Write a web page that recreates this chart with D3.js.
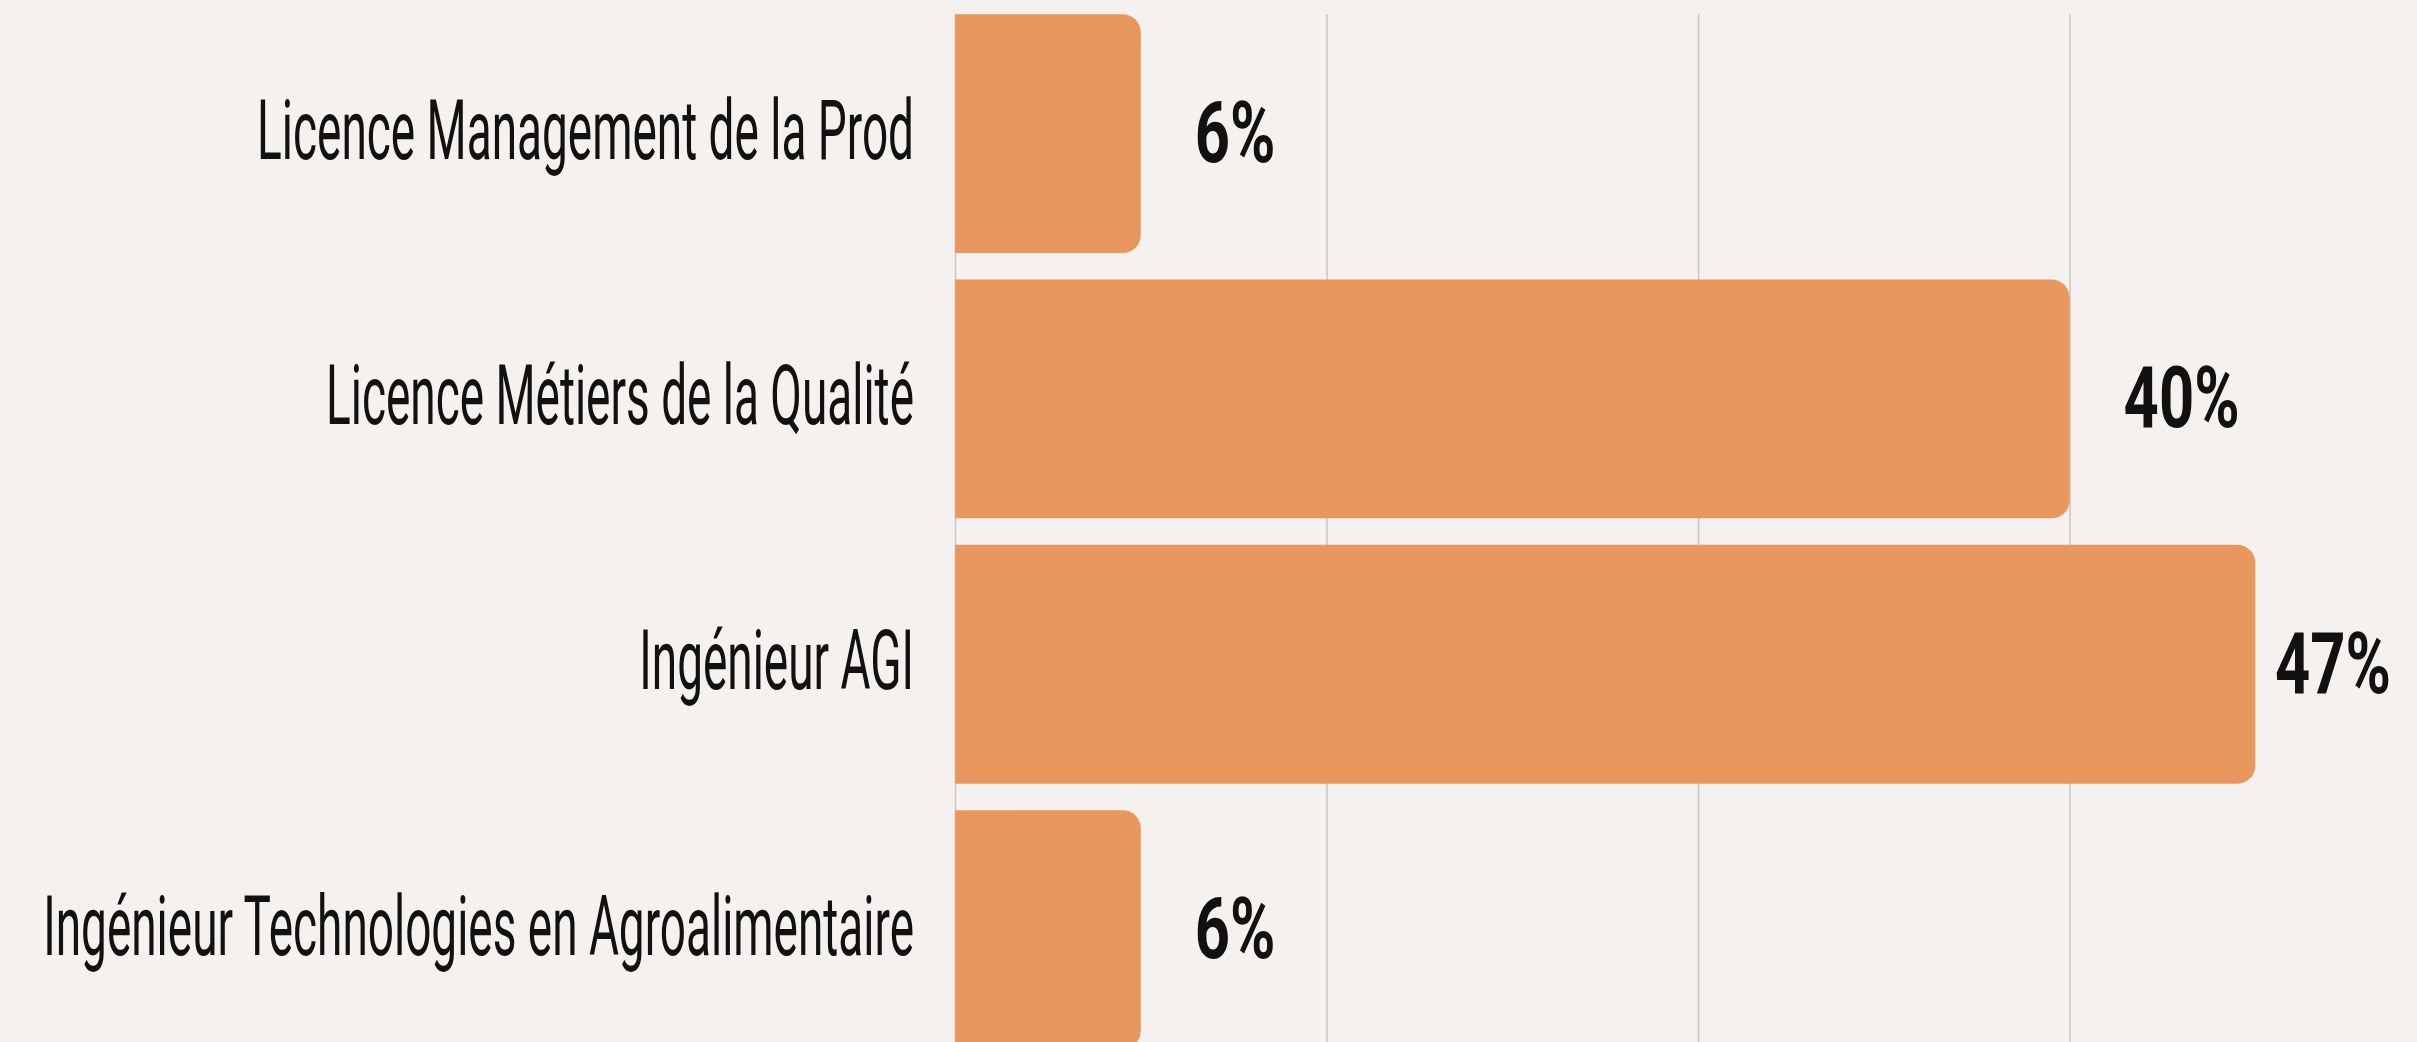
<!DOCTYPE html>
<html>
<head>
<meta charset="utf-8">
<script src="https://cdn.jsdelivr.net/npm/d3@7"></script>
<style>
  html, body { margin: 0; padding: 0; background: #f5f1ee; overflow: hidden; }
  .cat { font-family: Roboto, "Noto Sans", sans-serif; font-weight: 400; fill: #111; }
  .val { font-family: Roboto, "Noto Sans", sans-serif; font-weight: 700; fill: #111; }
  .grid line { stroke: #c9c5c1; stroke-width: 1.5; }
  .grid .domain { display: none; }
</style>
</head>
<body>
<div class="report"></div>
<script>
// respondents per programme (labels are the rounded shares shown)
var categories = [
    "Licence Management de la Prod",
    "Licence Métiers de la Qualité",
    "Ingénieur AGI",
    "Ingénieur Technologies en Agroalimentaire"
];
var counts = [1, 6, 7, 1];
var pctLabels = ["6%", "40%", "47%", "6%"];
var gridTicks = [0, 2, 4, 6];

var width = 2417, height = 1042,
    margin = {top: 1, left: 955, right: 0};

var svg = d3.select(".report").append("svg")
    .attr("width", width).attr("height", height);

svg.append("rect").attr("width", width).attr("height", height).attr("fill", "#f5f1ee");

var x = d3.scaleLinear()
    .domain([0, 7.87])
    .range([margin.left, width - margin.right]);

var y = d3.scaleBand()
    .domain(categories)
    .range([margin.top, margin.top + 4 * 265.3])
    .paddingInner(0.1)
    .paddingOuter(0.05);

var top0 = y(categories[0]);

// vertical grid behind bars
svg.append("g")
    .attr("class", "grid")
    .attr("transform", "translate(0," + top0 + ")")
    .call(d3.axisBottom(x).tickValues(gridTicks).tickSize(height).tickFormat(""));

var r = 18;
function barPath(d, i) {
    var x0 = x(0), x1 = x(d), y0 = y(categories[i]), h = y.bandwidth();
    return "M" + x0 + "," + y0 +
        "H" + (x1 - r) +
        "A" + r + "," + r + " 0 0 1 " + x1 + "," + (y0 + r) +
        "V" + (y0 + h - r) +
        "A" + r + "," + r + " 0 0 1 " + (x1 - r) + "," + (y0 + h) +
        "H" + x0 + "Z";
}

svg.append("g").selectAll("path")
    .data(counts)
    .enter().append("path")
    .attr("d", barPath)
    .attr("fill", "#e8985e");

// category labels, condensed horizontally
var cats = svg.append("g").selectAll("text")
    .data(categories)
    .enter().append("text")
    .attr("class", "cat")
    .attr("font-size", 84)
    .attr("text-anchor", "end")
    .attr("dy", "0.3em")
    .text(function (d) { return d; });

var longest = cats.filter(function (d, i) { return i === 3; }).node().getComputedTextLength();
var first = cats.filter(function (d, i) { return i === 0; }).node().getComputedTextLength();
var sxCat = (885 + 643) / (longest + first);
cats.attr("transform", function (d) {
    return "translate(914," + (y(d) + y.bandwidth() / 2) + ") scale(" + sxCat + ",1)";
});

// value labels
var vals = svg.append("g").selectAll("text")
    .data(counts)
    .enter().append("text")
    .attr("class", "val")
    .attr("font-size", 86)
    .attr("dy", "0.33em")
    .text(function (d, i) { return pctLabels[i]; });

var w40 = vals.filter(function (d, i) { return i === 1; }).node().getComputedTextLength();
var sxVal = 116 / w40;
vals.attr("transform", function (d, i) {
    var w = this.getComputedTextLength() * sxVal;
    var lx = Math.min(x(d) + 54, width - 26 - w);
    return "translate(" + lx + "," + (y(categories[i]) + y.bandwidth() / 2) + ") scale(" + sxVal + ",1)";
});
</script>
</body>
</html>
